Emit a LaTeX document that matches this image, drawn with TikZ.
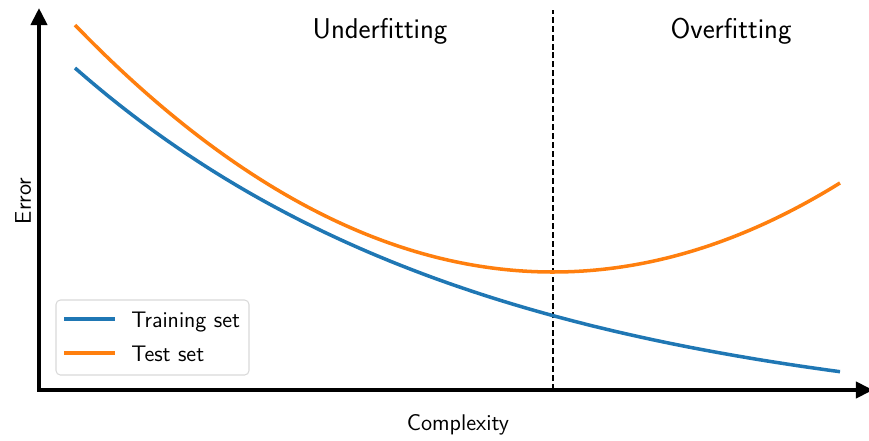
\documentclass[tikz,border=0pt]{standalone}
\usetikzlibrary{arrows.meta}
\definecolor{blx}{HTML}{1F77B4}
\definecolor{orx}{HTML}{FF7F0E}
\colorlet{gax}{black!15}
\tikzset{
    axis/.style={line width=2.3pt,line cap=rect,-{Triangle[length=9.7pt,width=9.1pt]}},
    curve/.style={line width=2pt},
    ttl/.style={font=\sffamily\fontsize{16.3}{19}\selectfont,inner sep=0pt},
    lbl/.style={font=\sffamily\fontsize{12.9}{15}\selectfont,inner sep=0pt},
    lgt/.style={font=\sffamily\fontsize{12.8}{15}\selectfont,inner sep=0pt,anchor=base west}
}

\begin{document}
\begin{tikzpicture}[x=0.02cm,y=-0.02cm]
            \useasboundingbox (0,0) rectangle (869,440);
            % axes
            \coordinate (o) at (39,390);
            \coordinate (ytop) at (39,8);
            \coordinate (xend) at (873,390);
            \draw [axis] (o) -- (ytop);
            \draw [axis] (o) -- (xend);
            % split line
            \coordinate (sb) at (553,390);
            \coordinate (st) at (553,10);
            \draw [line width=0.85pt,dash pattern=on 3.4pt off 1.7pt] (sb) -- (st);
            % curves
            \draw [curve,blx] plot [domain=75:840,samples=120]
                (\x,{426.4-358.4*exp(-0.002464*(\x-75))});
            \draw [curve,orx] plot [domain=75:840,samples=120]
                (\x,{272-10.81*((\x-553)/100)^2});
            % labels
            \node [ttl,anchor=base] (under) at (380,38) {Underfitting};
            \node [ttl,anchor=base] (over) at (731,38) {Overfitting};
            \node [lbl,anchor=base] (cplx) at (458,430) {Complexity};
            \node [lbl,anchor=base,rotate=90] (err) at (31,201) {Error};
            % legend
            \node [draw=gax,line width=0.6pt,rounded corners=2.5pt,
                minimum width=3.86cm,minimum height=1.5cm] (lgd) at (152.5,337.5) {};
            \coordinate (la) at (64,319);
            \coordinate (lb) at (115,319);
            \coordinate (lc) at (64,353);
            \coordinate (ld) at (115,353);
            \draw [curve,blx] (la) -- (lb);
            \draw [curve,orx] (lc) -- (ld);
            \node [lgt] (ltr) at (131,327.7) {Training set};
            \node [lgt] (lts) at (131,361.7) {Test set};
        \end{tikzpicture}
\end{document}
